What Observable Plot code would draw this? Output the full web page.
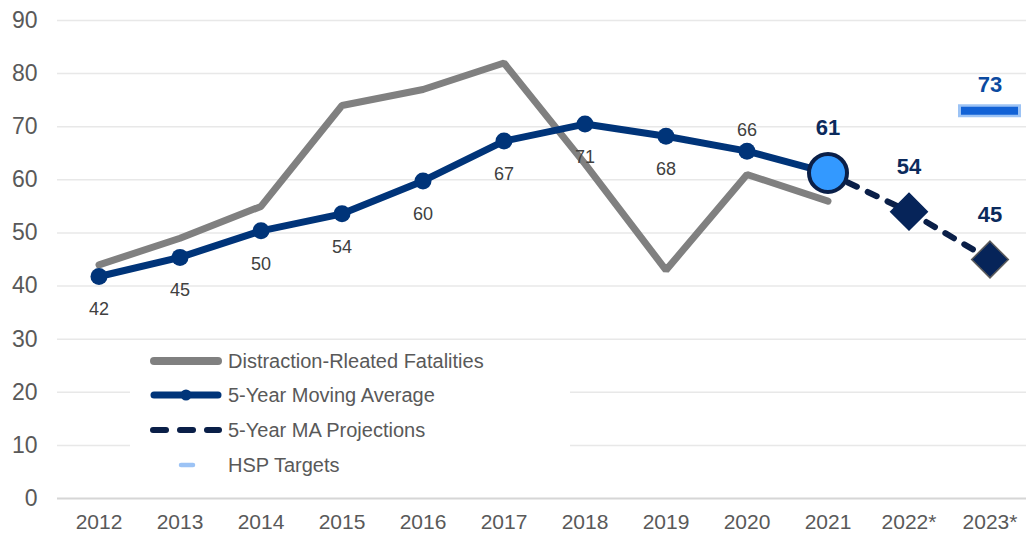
<!DOCTYPE html>
<html><head><meta charset="utf-8">
<script src="https://cdn.jsdelivr.net/npm/d3@7"></script>
<script src="https://cdn.jsdelivr.net/npm/@observablehq/plot@0.6"></script>
<style>
body{margin:0;background:#fff}
#wrap{position:relative;width:1026px;height:536px;font-family:"Liberation Sans",Arial,sans-serif}
#legend{position:absolute;left:130px;top:346px;width:440px;height:136px;background:#fff}
</style>
</head><body><div id="wrap"></div>
<script>
const years = ["2012","2013","2014","2015","2016","2017","2018","2019","2020","2021","2022*","2023*"];
const fatalityYears = ["2012","2013","2014","2015","2016","2017","2018","2019","2020","2021"];
const fatalities = [44,49,55,74,77,82,63,43,61,56];
const maYears = ["2012","2013","2014","2015","2016","2017","2018","2019","2020","2021"];
const movingAvg = [41.8,45.4,50.4,53.6,59.8,67.3,70.5,68.2,65.4,61.3];
const maLabels = ["42","45","50","54","60","67","71","68","66",""];
const maLabelAbove = [false,false,false,false,false,false,false,false,true,false];
const projYears = ["2021","2022*","2023*"];
const projValues = [61.3,54,45];
const projLabels = ["61","54","45"];
const targetYears = ["2023*"];
const targetValues = [73];
const yTicks = [0,10,20,30,40,50,60,70,80,90];
const legendLabels = ["Distraction-Rleated Fatalities","5-Year Moving Average","5-Year MA Projections","HSP Targets"];

const GRAY = "#808080", MA = "#003479", PROJ = "#0a1f48", TGT_OUT = "#9cc3f5", TGT_IN = "#1262d6";

const fat = fatalityYears.map((y,i)=>({year:y, value:fatalities[i]}));
const ma = maYears.map((y,i)=>({year:y, value:movingAvg[i], label:maLabels[i], above:maLabelAbove[i]}));
const proj = projYears.map((y,i)=>({year:y, value:projValues[i], label:projLabels[i]}));
const tgt = targetYears.map((y,i)=>({year:y, value:targetValues[i]}));

const chart = Plot.plot({
  width: 1026, height: 536,
  marginLeft: 57, marginRight: -5, marginTop: 20, marginBottom: 38,
  style: {fontFamily: '"Liberation Sans", Arial, sans-serif', color: "#595959", background: "#fff"},
  x: {type: "band", domain: years, paddingInner: 0.22, paddingOuter: 0.11},
  y: {domain: [0, 90]},
  marks: [
    Plot.ruleY(yTicks.filter(d => d > 0), {stroke: "#e8e8e8", strokeWidth: 1.5}),
    Plot.ruleY([0], {stroke: "#d6d6d6", strokeWidth: 2}),
    Plot.axisY({ticks: yTicks, tickSize: 0, tickPadding: 20, fontSize: 23, label: null}),
    Plot.axisX({tickSize: 0, tickPadding: 16, fontSize: 21, label: null}),
    Plot.line(fat, {x: "year", y: "value", stroke: GRAY, strokeWidth: 7, strokeLinecap: "round", strokeLinejoin: "miter"}),
    Plot.line(proj, {x: "year", y: "value", stroke: PROJ, strokeWidth: 6, strokeDasharray: "10 12", strokeLinecap: "round"}),
    Plot.line(ma, {x: "year", y: "value", stroke: MA, strokeWidth: 7, strokeLinejoin: "round"}),
    Plot.dot(ma.slice(0, 9), {x: "year", y: "value", r: 8.5, fill: MA}),
    Plot.dot(proj.slice(0, 1), {x: "year", y: "value", r: 19, fill: "#3399ff", stroke: PROJ, strokeWidth: 4}),
    Plot.dot(proj.slice(1), {x: "year", y: "value", r: 16.5, symbol: "diamond2", fill: "#062459", stroke: (d, i) => i === 1 ? "#5a5a5a" : "#062459", strokeWidth: 1.5}),
    Plot.tickY(tgt, {x: "year", y: "value", stroke: TGT_OUT, strokeWidth: 13}),
    Plot.tickY(tgt, {x: "year", y: "value", stroke: TGT_IN, strokeWidth: 8, insetLeft: 3, insetRight: 3}),
    Plot.text(ma.filter(d => d.label && !d.above), {x: "year", y: "value", text: "label", dy: 33, fontSize: 18, fill: "#404040"}),
    Plot.text(ma.filter(d => d.label && d.above), {x: "year", y: "value", text: "label", dy: -21, fontSize: 18, fill: "#404040"}),
    Plot.text(proj, {x: "year", y: "value", text: "label", dy: -45, fontSize: 22, fontWeight: "bold", fill: "#0b2a5c"}),
    Plot.text(tgt, {x: "year", y: "value", text: d => String(d.value), dy: -26, fontSize: 22, fontWeight: "bold", fill: "#0b4aa0"})
  ]
});
const wrap = document.getElementById("wrap");
wrap.appendChild(chart);

// Legend (HTML overlay)
const leg = document.createElement("div");
leg.id = "legend";
const svg = d3.select(leg).append("svg").attr("width", 440).attr("height", 136)
  .style("font-family", '"Liberation Sans", Arial, sans-serif');
const ox = 130, oy = 346;
const rowsY = [361, 395, 430, 465].map(v => v - oy);
const sx0 = 154 - ox, sx1 = 218 - ox;
svg.append("line").attr("x1", sx0).attr("x2", sx1).attr("y1", rowsY[0]).attr("y2", rowsY[0])
  .attr("stroke", GRAY).attr("stroke-width", 8).attr("stroke-linecap", "round");
svg.append("line").attr("x1", sx0).attr("x2", sx1).attr("y1", rowsY[1]).attr("y2", rowsY[1])
  .attr("stroke", MA).attr("stroke-width", 7).attr("stroke-linecap", "round");
svg.append("circle").attr("cx", (sx0 + sx1) / 2).attr("cy", rowsY[1]).attr("r", 5.5).attr("fill", MA);
[[153,166],[180,193],[207,219]].forEach(([a,b]) => {
  svg.append("line").attr("x1", a - ox).attr("x2", b - ox).attr("y1", rowsY[2]).attr("y2", rowsY[2])
    .attr("stroke", PROJ).attr("stroke-width", 6).attr("stroke-linecap", "round");
});
svg.append("line").attr("x1", 181 - ox).attr("x2", 193 - ox).attr("y1", rowsY[3]).attr("y2", rowsY[3])
  .attr("stroke", TGT_OUT).attr("stroke-width", 4.5).attr("stroke-linecap", "round");
legendLabels.forEach((t, i) => {
  svg.append("text").attr("x", 228 - ox).attr("y", rowsY[i]).attr("dy", "0.35em")
    .attr("font-size", 20).attr("fill", "#595959").text(t);
});
wrap.appendChild(leg);
</script>
</body></html>
